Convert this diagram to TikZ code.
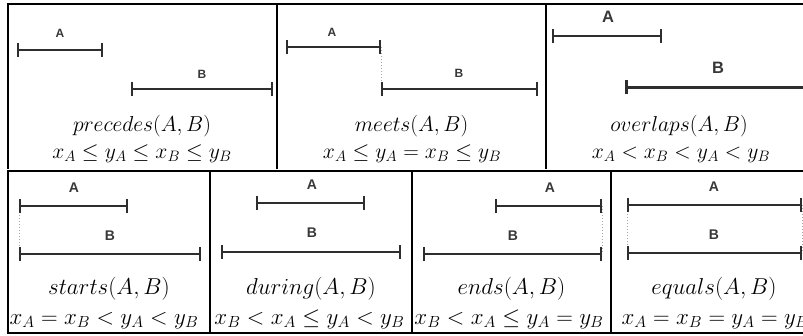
\documentclass[tikz,border=0pt]{standalone}
\usepackage{fix-cm}
\usepackage{fontspec}
\newfontfamily\labfont{Liberation Sans}
\usetikzlibrary{arrows.meta}
\begin{document}
\begin{tikzpicture}[x=1pt,y=-1pt,
  frame/.style={line width=2.8pt, draw=black},
  ival/.style={line width=2pt, draw=black!82, {Bar[width=14pt]}-{Bar[width=14pt]}},
  thickival/.style={ival, line width=3pt},
  joinline/.style={draw=black!35, line width=1pt, dotted},
  lbl/.style={font=\labfont\bfseries\fontsize{12}{14}\selectfont, text=black!78, inner sep=0pt},
  lblbig/.style={lbl, font=\labfont\bfseries\fontsize{16.5}{18}\selectfont},
  lblmid/.style={lbl, font=\labfont\bfseries\fontsize{14}{16}\selectfont},
  captext/.style={font=\fontsize{21.6}{25}\selectfont, anchor=base, inner sep=0pt},
  captextb/.style={captext, font=\fontsize{23}{27}\selectfont}]
\useasboundingbox (0,0) rectangle (803,335);
\clip (0,0) rectangle (803,335);
\fill[white] (0,0) rectangle (803,335);
% frames
\draw[frame] (6.6,4) -- (810,4);
\draw[frame] (8,4) -- (8,169);
\draw[frame] (277,4) -- (277,169);
\draw[frame] (546,4) -- (546,169);
\draw[frame] (6.6,171) -- (810,171);
\draw[frame] (8,171) -- (8,333);
\draw[frame] (6.6,333) -- (810,333);
\draw[frame] (210,171) -- (210,333);
\draw[frame] (412,171) -- (412,333);
\draw[frame] (611,171) -- (611,333);

% panel 1 precedes
\coordinate (p1as) at (17,50); \coordinate (p1ae) at (103,50);
\coordinate (p1bs) at (131,89); \coordinate (p1be) at (273,89);
\draw[ival] (p1as) -- (p1ae);
\draw[ival] (p1bs) -- (p1be);
\node[lbl] (p1la) at (60,33) {A};
\node[lbl] (p1lb) at (202,74) {B};
\node[captext] (p1c) at (142,131) {$precedes(A,B)$};
\node[captext] (p1f) at (142,158) {$x_A \leq y_A \leq x_B \leq y_B$};

% panel 2 meets
\coordinate (p2as) at (286,47); \coordinate (p2ae) at (381,47);
\coordinate (p2bs) at (381,89); \coordinate (p2be) at (538,89);
\draw[joinline] (p2ae) -- (p2bs);
\draw[ival] (p2as) -- (p2ae);
\draw[ival] (p2bs) -- (p2be);
\node[lbl] (p2la) at (332,32) {A};
\node[lbl] (p2lb) at (459,73) {B};
\node[captext] (p2c) at (411.5,131) {$meets(A,B)$};
\node[captext] (p2f) at (412,158) {$x_A \leq y_A = x_B \leq y_B$};

% panel 3 overlaps
\coordinate (p3as) at (552,36); \coordinate (p3ae) at (662,36);
\coordinate (p3bs) at (625,87); \coordinate (p3be) at (830,87);
\draw[ival] (p3as) -- (p3ae);
\draw[thickival] (p3bs) -- (p3be);
\node[lblbig] (p3la) at (608,17) {A};
\node[lblbig] (p3lb) at (718,68) {B};
\node[captext] (p3c) at (679,131) {$overlaps(A,B)$};
\node[captext] (p3f) at (681,158) {$x_A < x_B < y_A < y_B$};

% panel 4 starts
\coordinate (p4as) at (19,206); \coordinate (p4ae) at (128,206);
\coordinate (p4bs) at (19,254); \coordinate (p4be) at (201,254);
\draw[joinline] (p4as) -- (p4bs);
\draw[ival] (p4as) -- (p4ae);
\draw[ival] (p4bs) -- (p4be);
\node[lblmid] (p4la) at (74,188) {A};
\node[lblmid] (p4lb) at (110,236) {B};
\node[captextb] (p4c) at (109,294) {$starts(A,B)$};
\node[captextb] (p4f) at (104,324) {$x_A = x_B < y_A < y_B$};

% panel 5 during
\coordinate (p5as) at (256,203); \coordinate (p5ae) at (365,203);
\coordinate (p5bs) at (221,252); \coordinate (p5be) at (401,252);
\draw[ival] (p5as) -- (p5ae);
\draw[ival] (p5bs) -- (p5be);
\node[lblmid] (p5la) at (312,185) {A};
\node[lblmid] (p5lb) at (312,233) {B};
\node[captextb] (p5c) at (311,294) {$during(A,B)$};
\node[captextb] (p5f) at (309.5,324) {$x_B < x_A \leq y_A < y_B$};

% panel 6 ends
\coordinate (p6as) at (495,206); \coordinate (p6ae) at (602,206);
\coordinate (p6bs) at (423,254); \coordinate (p6be) at (602,254);
\draw[joinline] (p6ae) -- (p6be);
\draw[ival] (p6as) -- (p6ae);
\draw[ival] (p6bs) -- (p6be);
\node[lblmid] (p6la) at (550,188) {A};
\node[lblmid] (p6lb) at (513,236) {B};
\node[captextb] (p6c) at (511.5,294) {$ends(A,B)$};
\node[captextb] (p6f) at (509,324) {$x_B < x_A \leq y_A = y_B$};

% panel 7 equals
\coordinate (p7as) at (627,205); \coordinate (p7ae) at (802,205);
\coordinate (p7bs) at (627,253); \coordinate (p7be) at (802,253);
\draw[joinline] (p7as) -- (p7bs);
\draw[joinline] (p7ae) -- (p7be);
\draw[ival] (p7as) -- (p7ae);
\draw[ival] (p7bs) -- (p7be);
\node[lblmid] (p7la) at (714,187) {A};
\node[lblmid] (p7lb) at (714,235) {B};
\node[captextb] (p7c) at (714,294) {$equals(A,B)$};
\node[captextb] (p7f) at (715,324) {$x_A = x_B = y_A = y_B$};
\end{tikzpicture}
\end{document}
